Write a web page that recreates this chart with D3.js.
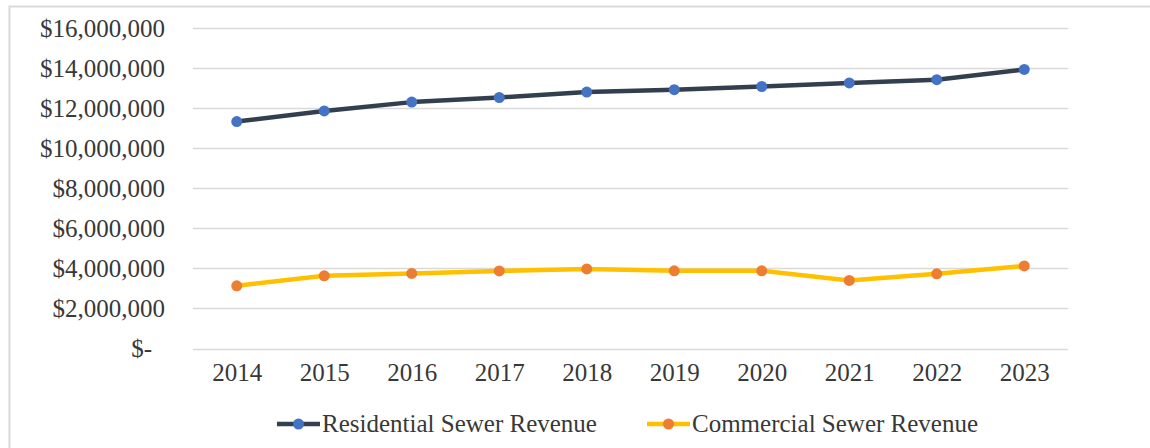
<!DOCTYPE html>
<meta charset="utf-8" />
<script src="https://d3js.org/d3.v7.min.js"></script>
<style>
  body { margin: 0; background: #fff; }
  svg text { font-family: "Liberation Serif", "Times New Roman", serif; fill: #383838; }
</style>
<div id="chart"></div>
<script>
  // data
  const years = ["2014", "2015", "2016", "2017", "2018", "2019", "2020", "2021", "2022", "2023"];
  const residential = [11330000, 11860000, 12300000, 12530000, 12800000, 12920000, 13080000, 13260000, 13420000, 13930000];
  const commercial = [3130000, 3630000, 3750000, 3870000, 3970000, 3880000, 3880000, 3400000, 3730000, 4120000];
  const yTicks = [0, 2000000, 4000000, 6000000, 8000000, 10000000, 12000000, 14000000, 16000000];
  const seriesNames = ["Residential Sewer Revenue", "Commercial Sewer Revenue"];

  const W = 1150, H = 448;
  const margin = { top: 28, right: 82, bottom: 100, left: 193 };
  const width = W - margin.left - margin.right,
    height = 348.5 - margin.top;

  const svg = d3.select("#chart").append("svg").attr("width", W).attr("height", H);

  // outer chart frame
  svg.append("rect")
    .attr("x", 9.5).attr("y", 6.5)
    .attr("width", 1200).attr("height", 600)
    .attr("fill", "none").attr("stroke", "#d9d9d9").attr("stroke-width", 2);

  const g = svg.append("g").attr("transform", `translate(${margin.left}, ${margin.top})`);

  const x = d3.scalePoint().domain(years).range([0, width]).padding(0.5);
  const y = d3.scaleLinear().domain([0, 16000000]).range([height, 0]);

  // gridlines
  g.append("g")
    .selectAll("line")
    .data(yTicks)
    .join("line")
    .attr("x1", 0).attr("x2", width)
    .attr("y1", d => Math.round(y(d)) + 0.5).attr("y2", d => Math.round(y(d)) + 0.5)
    .attr("stroke", "#d9d9d9").attr("stroke-width", 1.3);

  // y axis labels
  const fmt = d3.format(",");
  const yAxis = g.append("g")
    .call(d3.axisLeft(y).tickValues(yTicks).tickSize(0).tickPadding(28)
      .tickFormat(d => d === 0 ? "$-" : "$" + fmt(d)));
  yAxis.select(".domain").remove();
  yAxis.selectAll("text")
    .style("font-size", "25px")
    .attr("fill", "#383838")
    .attr("dx", d => d === 0 ? -13 : 0);

  // x axis labels
  const xAxis = g.append("g")
    .attr("transform", `translate(0, ${height})`)
    .call(d3.axisBottom(x).tickSize(0).tickPadding(15));
  xAxis.select(".domain").remove();
  xAxis.selectAll("text").style("font-size", "25px").attr("fill", "#383838");

  const series = [
    { name: seriesNames[0], values: residential, line: "#323f4f", dot: "#4472c4" },
    { name: seriesNames[1], values: commercial, line: "#ffc000", dot: "#ed7d31" }
  ];

  const line = d3.line().x((d, i) => x(years[i])).y(d => y(d));

  series.forEach(s => {
    g.append("path")
      .datum(s.values)
      .attr("fill", "none")
      .attr("stroke", s.line)
      .attr("stroke-width", 4.5)
      .attr("stroke-linejoin", "round")
      .attr("d", line);
    g.append("g")
      .selectAll("circle")
      .data(s.values)
      .join("circle")
      .attr("cx", (d, i) => x(years[i]))
      .attr("cy", d => y(d))
      .attr("r", 5.5)
      .attr("fill", s.dot);
  });

  // legend
  const legendX = [277, 647];
  series.forEach((s, i) => {
    const lg = svg.append("g").attr("transform", `translate(${legendX[i]}, 424)`);
    lg.append("line").attr("x1", 0).attr("x2", 43).attr("y1", 0).attr("y2", 0)
      .attr("stroke", s.line).attr("stroke-width", 4.5);
    lg.append("circle").attr("cx", 21.5).attr("cy", 0).attr("r", 5.5).attr("fill", s.dot);
    lg.append("text").attr("x", 45).attr("y", 0).attr("dy", "0.33em")
      .style("font-size", "25px").text(s.name);
  });
</script>
